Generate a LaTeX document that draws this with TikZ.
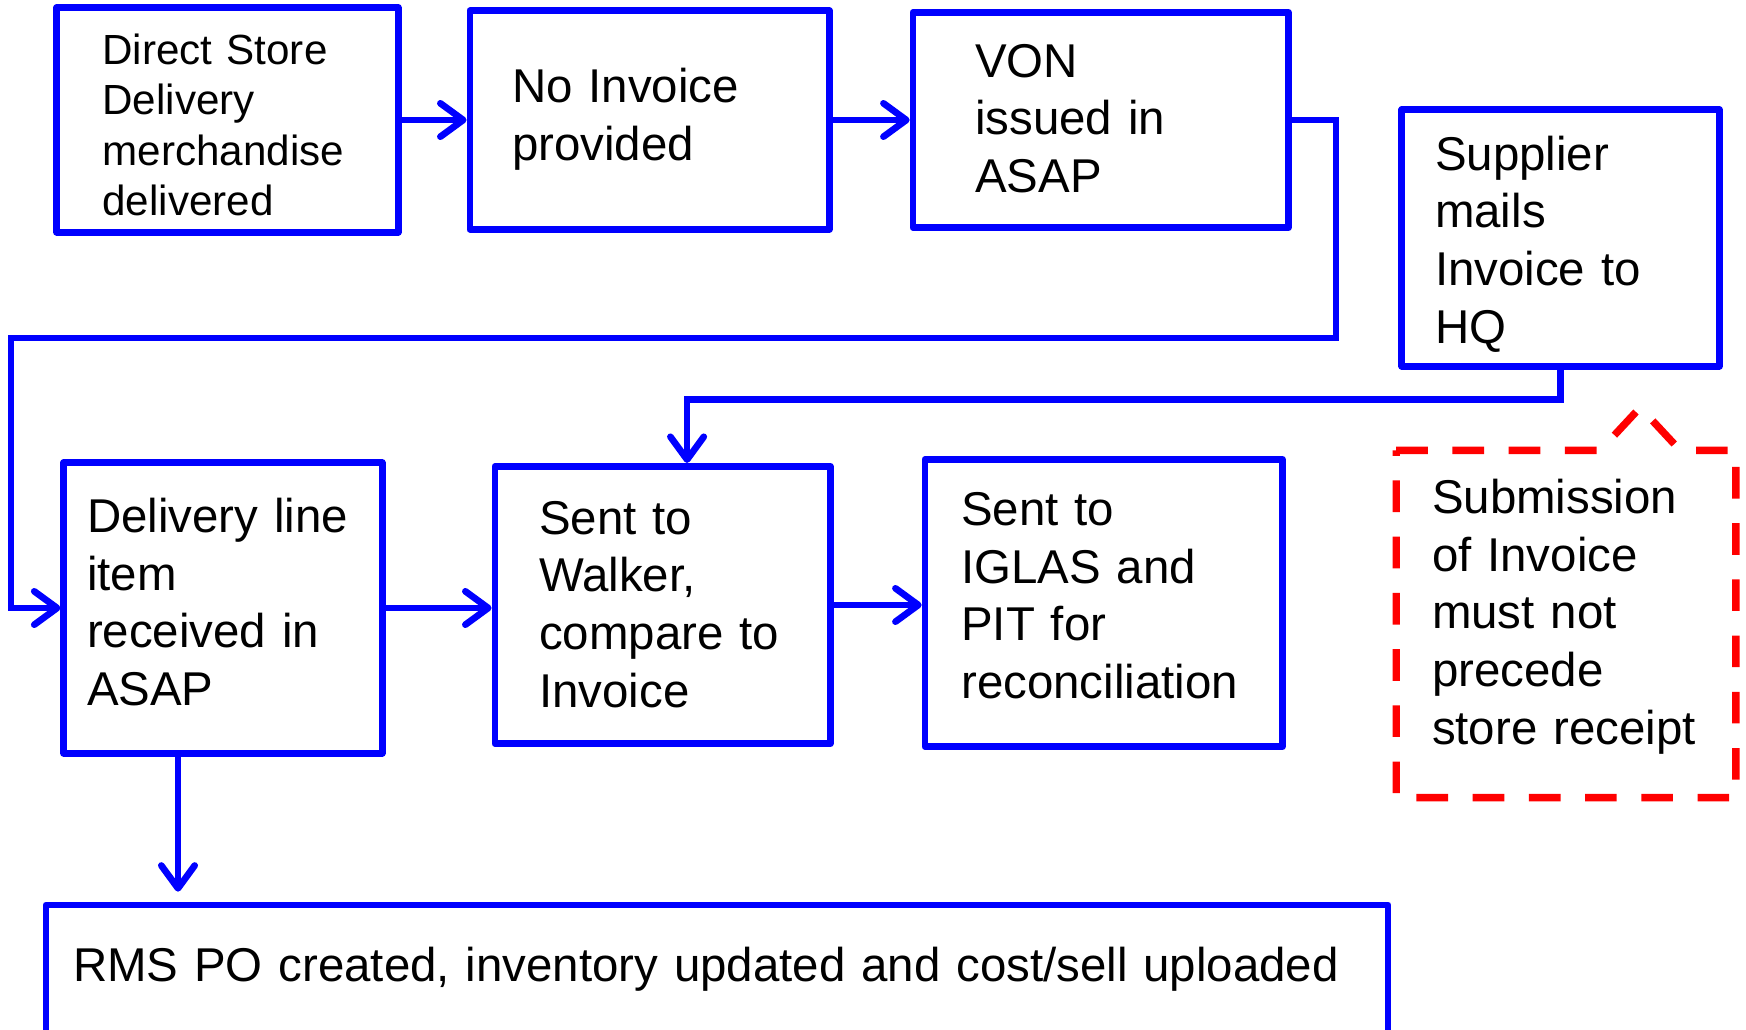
\documentclass[tikz,border=0pt]{standalone}
\usepackage{fontspec}
\setmainfont{Liberation Sans}
\usetikzlibrary{arrows.meta,positioning}

\begin{document}
\begin{tikzpicture}[
  x=0.02cm, y=-0.02cm,
  box/.style={draw=blue, line width=3.8pt, line join=round, align=left, inner sep=0pt, fill=white,
    text height=0pt, font=\fontsize{27pt}{33pt}\selectfont},
  arrow/.style={-{Straight Barb[length=13pt,width=19pt,round]}, line width=3.8pt, draw=blue},
  note/.style={align=left, inner sep=0pt, text height=0pt, font=\fontsize{27pt}{33pt}\selectfont},
  callout/.style={draw=red, line width=4.2pt, dash pattern=on 18pt off 14pt}
]
\useasboundingbox (0,0) rectangle (1746,1030);

% top row
\node[box, minimum width=6.83cm, minimum height=4.49cm, text width=5cm, text depth=2.24cm,
  font=\fontsize{24pt}{28.8pt}\selectfont] (dsd) at (227.5,120)
  {Direct Store\\Delivery\\merchandise\\delivered};
\node[box, right=13mm of dsd, minimum width=7.19cm, minimum height=4.37cm, text width=5.5cm,
  text depth=0.68cm] (noinv)
  {No Invoice\\provided};
\node[box, right=15.4mm of noinv, minimum width=7.51cm, minimum height=4.31cm, text width=5.02cm,
  text depth=1.72cm] (von)
  {VON\\issued in\\ASAP};
\node[box, minimum width=6.35cm, minimum height=5.13cm, text width=5.02cm, text depth=2.72cm] (sup)
  at (1560.5,238)
  {Supplier\\mails\\Invoice to\\HQ};

% middle row
\node[box, minimum width=6.37cm, minimum height=5.81cm, text width=5.44cm, text depth=3.04cm] (dli)
  at (223,608)
  {Delivery line\\item\\received in\\ASAP};
\node[box, right=21.2mm of dli, yshift=0.06cm, minimum width=6.71cm, minimum height=5.55cm,
  text width=4.94cm, text depth=2.84cm] (walker)
  {Sent to\\Walker,\\compare to\\Invoice};
\node[box, right=17.6mm of walker, yshift=0.04cm, minimum width=7.15cm, minimum height=5.75cm,
  text width=5.7cm, text depth=3.12cm] (iglas)
  {Sent to\\IGLAS and\\PIT for\\reconciliation};

% callout
\node[note, minimum width=6.78cm, minimum height=6.93cm, text width=5.36cm, text depth=4.44cm] (rule)
  at (1566,624)
  {Submission\\of Invoice\\must not\\precede\\store receipt};
\draw[callout] (rule.north west) -- ++(204,0) -- ++(40,-43) -- ++(40,43) -- (rule.north east)
  -- (rule.south east) -- (rule.south west) -- cycle;

% bottom
\node[box, minimum width=26.85cm, minimum height=2.6cm, text width=25.76cm,
  text height=0.46cm, text depth=0pt] (rms) at (717,970)
  {RMS PO created, inventory updated and cost/sell uploaded};

\draw[arrow] (dsd) -- (noinv);
\draw[arrow] (noinv) -- (von);
\draw[arrow] (von.east) -| (1336,338) -- (11,338) |- (dli.west);
\draw[arrow] (sup.south) -- ++(0,30) -| ([xshift=0.49cm]walker.north);
\draw[arrow] (dli) -- (dli -| walker.west);
\draw[arrow] (walker) -- (walker -| iglas.west);
\coordinate (drop) at ([xshift=-0.9cm]dli.south);
\draw[arrow, shorten >=0.2cm] (drop) -- (drop |- rms.north);

\end{tikzpicture}
\end{document}
